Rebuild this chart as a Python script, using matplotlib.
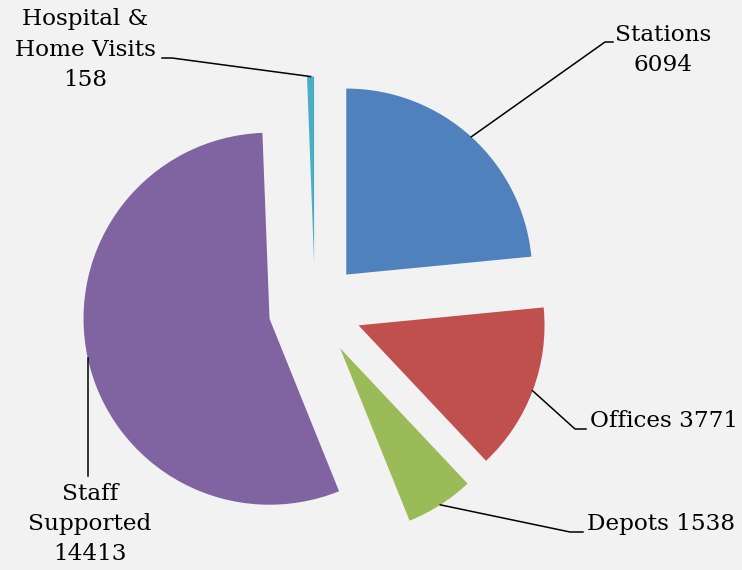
import matplotlib.pyplot as plt
import numpy as np

# data
labels = ['Stations', 'Offices', 'Depots', 'Staff\nSupported', 'Hospital &\nHome Visits']
values = [6094, 3771, 1538, 14413, 158]
colors = ['#4f81bd', '#c0504d', '#9bbb59', '#8064a2', '#4bacc6']

W, H = 742, 570
cx, cy, R = 315, 309, 186   # pie centre and radius in pixels

fig = plt.figure(figsize=(W / 100, H / 100), dpi=100, facecolor='#f2f2f2')
ax = fig.add_axes([0, 0, 1, 1])
ax.set_facecolor('#f2f2f2')
ax.axis('off')

explode = [0.25] * len(values)
wedges, _ = ax.pie(values, colors=colors, startangle=90, counterclock=False,
                   explode=explode, radius=1, center=(0, 0),
                   wedgeprops=dict(linewidth=0))
ax.set_xlim(-cx / R, (W - cx) / R)
ax.set_ylim((cy - H) / R, cy / R)
ax.set_aspect('auto')

def px(x, y):
    return (x - cx) / R, (cy - y) / R

# label layout: elbow point, end of horizontal stub, text anchor (pixels)
# elbow x of None means straight down from the anchor
layout = [
    dict(elbow=(605, 42), stub=(613, 42), text=(663, 50), ha='center', txt='Stations\n6094'),
    dict(elbow=(575, 429), stub=(586, 429), text=(590, 421), ha='left', txt='Offices 3771'),
    dict(elbow=(570, 532), stub=(583, 532), text=(587, 524), ha='left', txt='Depots 1538'),
    dict(elbow=(None, 476), stub=(None, 476), text=(90, 524), ha='center', txt='Staff\nSupported\n14413'),
    dict(elbow=(172, 58), stub=(162, 58), text=(85, 50), ha='center', txt='Hospital &\nHome Visits\n158'),
]

for w, lay in zip(wedges, layout):
    mid = np.deg2rad((w.theta1 + w.theta2) / 2)
    ox, oy = w.center
    ax_pt = (ox + np.cos(mid), oy + np.sin(mid))
    ex, ey = px(*[v if v is not None else 0 for v in lay['elbow']])
    sx, sy = px(*[v if v is not None else 0 for v in lay['stub']])
    if lay['elbow'][0] is None:
        ex = sx = ax_pt[0]
    ax.plot([ax_pt[0], ex, sx], [ax_pt[1], ey, sy], color='black', lw=1.1)
    tx, ty = px(*lay['text'])
    ax.text(tx, ty, lay['txt'], ha=lay['ha'], va='center', fontsize=16.7,
            family='DejaVu Serif', linespacing=1.5)

fig.savefig('out.png', dpi=100, facecolor=fig.get_facecolor())
